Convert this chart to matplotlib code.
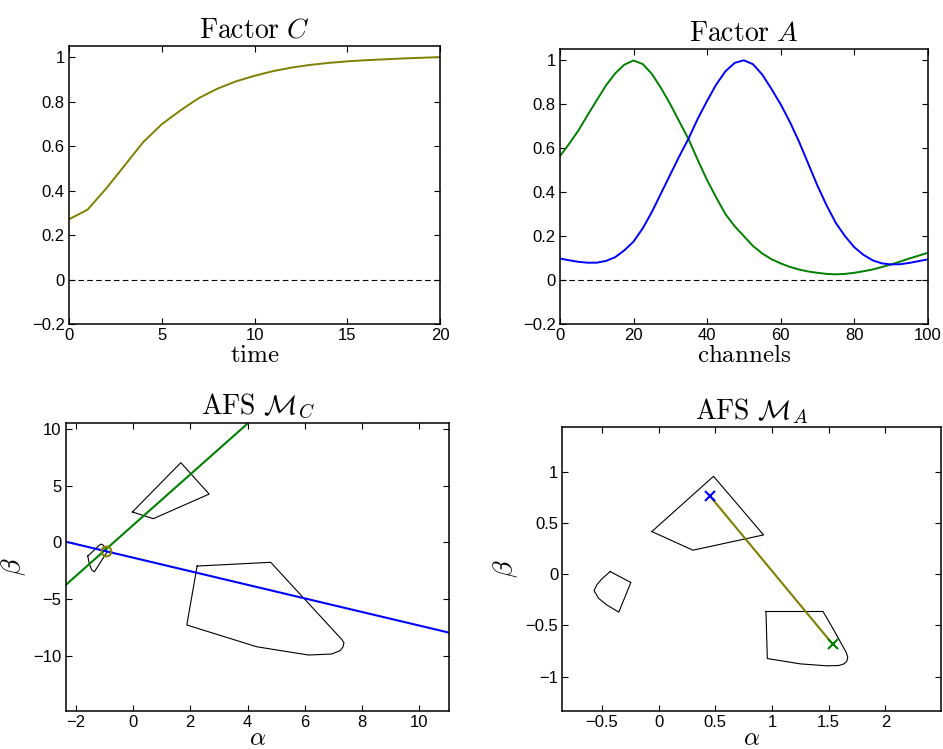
import matplotlib
matplotlib.use('Agg')
import matplotlib.pyplot as plt

plt.rcParams['font.family'] = 'Liberation Sans'
plt.rcParams['mathtext.fontset'] = 'cm'

# Factor C
time = list(range(21))
factor_c = [0.271, 0.314, 0.409, 0.513, 0.618, 0.698, 0.760, 0.816, 0.858, 0.891,
            0.916, 0.937, 0.953, 0.965, 0.974, 0.981, 0.986, 0.990, 0.994, 0.997, 1.0]

# Factor A
channels = [i * 2.5 for i in range(41)]
factor_a_blue = [0.098, 0.090, 0.083, 0.079, 0.079, 0.087, 0.104, 0.135, 0.175, 0.235,
                 0.310, 0.395, 0.480, 0.565, 0.645, 0.735, 0.815, 0.890, 0.950, 0.988,
                 1.000, 0.982, 0.935, 0.870, 0.800, 0.720, 0.630, 0.530, 0.430, 0.340,
                 0.260, 0.200, 0.150, 0.115, 0.090, 0.076, 0.071, 0.072, 0.078, 0.086, 0.094]
factor_a_green = [0.564, 0.620, 0.680, 0.750, 0.818, 0.885, 0.940, 0.980, 0.999, 0.983,
                  0.938, 0.873, 0.800, 0.720, 0.640, 0.545, 0.455, 0.375, 0.300, 0.245,
                  0.200, 0.155, 0.121, 0.095, 0.076, 0.060, 0.048, 0.039, 0.033, 0.028,
                  0.026, 0.028, 0.033, 0.040, 0.048, 0.059, 0.071, 0.084, 0.098, 0.111, 0.124]

# AFS M_C
mc_poly1_x = [-0.02, 1.67, 2.66, 0.71, -0.02]
mc_poly1_y = [2.68, 7.03, 4.26, 2.09, 2.68]
mc_poly2_x = [-1.58, -1.13, -1.04, -0.90, -1.35, -1.44, -1.53, -1.58]
mc_poly2_y = [-1.21, -0.15, -0.24, -0.83, -2.60, -2.44, -1.85, -1.21]
mc_poly3_x = [2.24, 4.81, 7.29, 7.37, 7.33, 7.23, 6.94, 6.13, 4.32, 1.88, 2.24]
mc_poly3_y = [-2.09, -1.76, -8.56, -8.85, -9.25, -9.56, -9.85, -9.94, -9.21, -7.29, -2.09]
mc_green_x = [-2.35, 4.01]
mc_green_y = [-3.76, 10.5]
mc_blue_x = [-2.35, 11.05]
mc_blue_y = [0.06, -7.97]
mc_point = (-0.93, -0.72)

# AFS M_A
ma_poly1_x = [-0.059, 0.485, 0.926, 0.303, -0.059]
ma_poly1_y = [0.416, 0.955, 0.383, 0.234, 0.416]
ma_poly2_x = [-0.426, -0.244, -0.350, -0.456, -0.530, -0.568, -0.544, -0.500, -0.426]
ma_poly2_y = [0.026, -0.081, -0.370, -0.300, -0.234, -0.160, -0.104, -0.046, 0.026]
ma_poly3_x = [0.947, 1.450, 1.544, 1.626, 1.655, 1.668, 1.660, 1.635, 1.588, 1.485, 1.250, 0.959, 0.947]
ma_poly3_y = [-0.364, -0.364, -0.543, -0.706, -0.765, -0.810, -0.848, -0.875, -0.891, -0.894, -0.875, -0.823, -0.364]
ma_blue_pt = (0.45, 0.767)
ma_green_pt = (1.535, -0.683)

blue = '#0000ff'
green = '#008000'
olive = '#808000'

fig = plt.figure(figsize=(9.43, 7.49), dpi=100)
ax1 = fig.add_axes([0.0732, 0.5674, 0.3934, 0.3712])
ax2 = fig.add_axes([0.5938, 0.5674, 0.3900, 0.3668])
ax3 = fig.add_axes([0.0697, 0.0507, 0.4068, 0.3850])
ax4 = fig.add_axes([0.5963, 0.0507, 0.4016, 0.3788])

def style(ax):
    ax.tick_params(direction='in', top=True, right=True, length=4, width=0.8,
                   labelsize=12, pad=3)
    for s in ax.spines.values():
        s.set_linewidth(1.1)

# top left
ax1.plot(time, factor_c, color=olive, lw=1.4)
ax1.axhline(0, color='k', ls='--', lw=0.8, dashes=(5, 3))
ax1.set_xlim(0, 20)
ax1.set_ylim(-0.2, 1.05)
ax1.set_xticks([0, 5, 10, 15, 20])
ax1.set_yticks([-0.2, 0, 0.2, 0.4, 0.6, 0.8, 1])
ax1.set_yticklabels(['\u22120.2', '0', '0.2', '0.4', '0.6', '0.8', '1'])
ax1.set_title(r'$\mathrm{Factor}\ C$', fontsize=20, pad=6)
ax1.set_xlabel(r'$\mathrm{time}$', fontsize=18, labelpad=0)
style(ax1)

# top right
ax2.plot(channels, factor_a_green, color=green, lw=1.4)
ax2.plot(channels, factor_a_blue, color=blue, lw=1.4)
ax2.axhline(0, color='k', ls='--', lw=0.8, dashes=(5, 3))
ax2.set_xlim(0, 100)
ax2.set_ylim(-0.2, 1.05)
ax2.set_xticks([0, 20, 40, 60, 80, 100])
ax2.set_yticks([-0.2, 0, 0.2, 0.4, 0.6, 0.8, 1])
ax2.set_yticklabels(['\u22120.2', '0', '0.2', '0.4', '0.6', '0.8', '1'])
ax2.set_title(r'$\mathrm{Factor}\ A$', fontsize=20, pad=6)
ax2.set_xlabel(r'$\mathrm{channels}$', fontsize=18, labelpad=0)
style(ax2)

# bottom left
ax3.plot(mc_poly1_x, mc_poly1_y, color='k', lw=0.8)
ax3.plot(mc_poly2_x, mc_poly2_y, color='k', lw=0.8)
ax3.plot(mc_poly3_x, mc_poly3_y, color='k', lw=0.8)
ax3.plot(mc_green_x, mc_green_y, color=green, lw=1.5)
ax3.plot(mc_blue_x, mc_blue_y, color=blue, lw=1.5)
ax3.plot(mc_point[0], mc_point[1], 'o', color=olive, mfc='none', ms=7, mew=1.5)
ax3.set_xlim(-2.35, 11.05)
ax3.set_ylim(-14.88, 10.56)
ax3.set_xticks([-2, 0, 2, 4, 6, 8, 10])
ax3.set_xticklabels(['\u22122', '0', '2', '4', '6', '8', '10'])
ax3.set_yticks([-10, -5, 0, 5, 10])
ax3.set_yticklabels(['\u221210', '\u22125', '0', '5', '10'])
ax3.set_title(r'$\mathrm{AFS}\ \mathcal{M}_C$', fontsize=20, pad=6)
ax3.set_xlabel(r'$\alpha$', fontsize=18, labelpad=-3)
ax3.set_ylabel(r'$\beta$', fontsize=20, labelpad=4)
style(ax3)

# bottom right
ax4.plot(ma_poly1_x, ma_poly1_y, color='k', lw=0.8)
ax4.plot(ma_poly2_x, ma_poly2_y, color='k', lw=0.8)
ax4.plot(ma_poly3_x, ma_poly3_y, color='k', lw=0.8)
ax4.plot([ma_blue_pt[0], ma_green_pt[0]], [ma_blue_pt[1], ma_green_pt[1]], color=olive, lw=1.5)
ax4.plot(ma_blue_pt[0], ma_blue_pt[1], 'x', color=blue, ms=7, mew=1.5)
ax4.plot(ma_green_pt[0], ma_green_pt[1], 'x', color=green, ms=7, mew=1.5)
ax4.set_xlim(-0.848, 2.49)
ax4.set_ylim(-1.335, 1.433)
ax4.set_xticks([-0.5, 0, 0.5, 1, 1.5, 2])
ax4.set_xticklabels(['\u22120.5', '0', '0.5', '1', '1.5', '2'])
ax4.set_yticks([-1, -0.5, 0, 0.5, 1])
ax4.set_yticklabels(['\u22121', '\u22120.5', '0', '0.5', '1'])
ax4.set_title(r'$\mathrm{AFS}\ \mathcal{M}_A$', fontsize=20, pad=6)
ax4.set_xlabel(r'$\alpha$', fontsize=18, labelpad=-3)
ax4.set_ylabel(r'$\beta$', fontsize=20, labelpad=4)
style(ax4)

fig.savefig('out.png', dpi=100)
